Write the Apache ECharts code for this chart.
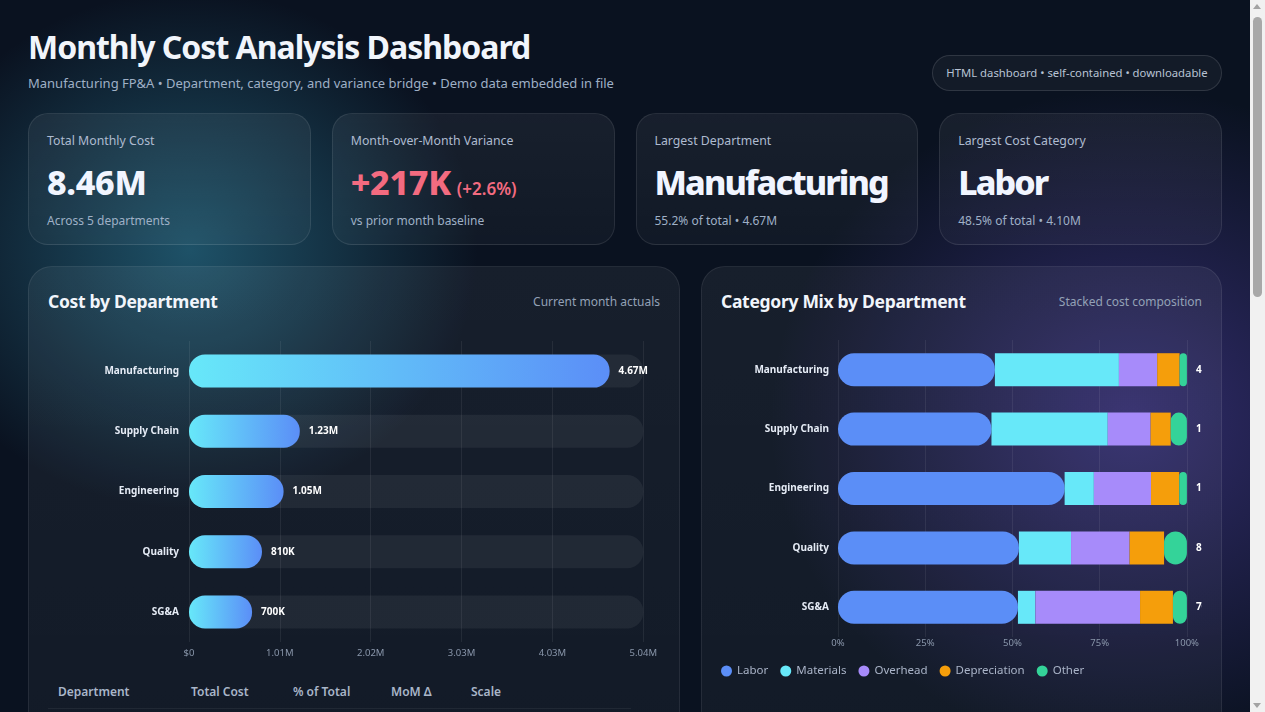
<!DOCTYPE html>
<html>
<head>
<meta charset="utf-8">
<title>Monthly Cost Analysis Dashboard</title>
<script src="https://cdn.jsdelivr.net/npm/echarts@6/dist/echarts.min.js"></script>
<style>
  html, body { margin: 0; }
  html { overflow: hidden; }
  body {
    font-family: "Segoe UI", "Noto Sans", sans-serif;
    color: #e8eef8;
    background:
      radial-gradient(400px 360px at 190px 250px, rgba(50,145,175,.50), transparent 72%),
      radial-gradient(500px 460px at 1130px 420px, rgba(105,80,215,.42), transparent 72%),
      #0a1220;
    background-attachment: fixed;
    height: 712px;
  }
  .wrap { padding: 26px 43px 40px 28px; position: relative; }
  .header { height: 87px; position: relative; }
  h1 { margin: 0; font-size: 32px; line-height: 41px; font-weight: 700; letter-spacing: -1px; color: #f1f5fb; }
  .sub { margin-top: 6px; font-size: 13px; line-height: 20px; color: #9fb0c6; }
  .pill {
    position: absolute; right: 0; top: 29px; height: 36px; box-sizing: border-box; width: 290px; text-align: center;
    border-radius: 18px; line-height: 34px; font-size: 11.3px;
    border: 1px solid rgba(255,255,255,.12); background: rgba(255,255,255,.04); color: #b8c3d4;
  }
  .kpis { display: grid; grid-template-columns: repeat(4, 1fr); gap: 21px; }
  .kpi {
    height: 132px; box-sizing: border-box; padding: 18px 18px; border-radius: 20px;
    background: linear-gradient(180deg, rgba(255,255,255,.06), rgba(255,255,255,.03));
    border: 1px solid rgba(255,255,255,.09);
  }
  .kpi .lbl { font-size: 12.3px; line-height: 18px; color: #aebbd0; }
  .kpi .val { margin-top: 12px; font-size: 34px; line-height: 40px; font-weight: 800; color: #f1f5ff; letter-spacing: -0.3px; }
  .kpi .val.word { letter-spacing: -1.9px; }
  .kpi .val.neg { color: #f36b80; }
  .kpi .val small { font-size: 17px; line-height: 1; font-weight: 600; letter-spacing: 0; margin-left: 6px; }
  .kpi .note { margin-top: 10px; font-size: 12px; line-height: 18px; color: #9fb0c6; }
  .panels { display: grid; grid-template-columns: 5fr 4fr; gap: 21px; margin-top: 21px; }
  .panel {
    border-radius: 24px; padding: 20px 19px; box-sizing: border-box;
    background: linear-gradient(180deg, rgba(255,255,255,.055), rgba(255,255,255,.03));
    border: 1px solid rgba(255,255,255,.08);
  }
  .ph { height: 28px; display: flex; justify-content: space-between; align-items: center; }
  .ph h2 { margin: 0; font-size: 17.5px; font-weight: 700; color: #f1f5fb; letter-spacing: -0.3px; }
  .ph span { font-size: 12px; color: #93a1b6; }
  #deptChart { margin-top: 8px; height: 340px; }
  #mixChart { margin-top: 8px; height: 380px; }
  table { margin-top: 12px; border-collapse: collapse; font-size: 12px; }
  th { text-align: left; font-weight: 600; color: #a9b6c9; padding: 8px 10px; }
  td { padding: 8px 10px; color: #d8e0ec; border-top: 1px solid rgba(255,255,255,.06); }
  .scale { height: 6px; border-radius: 3px; background: linear-gradient(90deg, #67e8f9, #5b8ef7); }
  /* browser scrollbar of the captured page */
  .sb { position: fixed; right: 0; top: 0; width: 15px; height: 712px; background: #f1f1f1; }
  .sb .thumb { position: absolute; left: 3px; width: 9px; top: 17px; height: 280px; border-radius: 5px; background: #a8a8a8; }
  .sb .up, .sb .down { position: absolute; left: 3px; width: 0; height: 0; border-left: 4.5px solid transparent; border-right: 4.5px solid transparent; }
  .sb .up { top: 4px; border-bottom: 5px solid #a3a3a3; }
  .sb .down { bottom: 4px; border-top: 5px solid #a3a3a3; }
</style>
</head>
<body>
<div class="wrap">
  <div class="header">
    <h1>Monthly Cost Analysis Dashboard</h1>
    <div class="sub">Manufacturing FP&amp;A • Department, category, and variance bridge • Demo data embedded in file</div>
    <div class="pill">HTML dashboard • self-contained • downloadable</div>
  </div>
  <div class="kpis">
    <div class="kpi"><div class="lbl">Total Monthly Cost</div><div class="val">8.46M</div><div class="note">Across 5 departments</div></div>
    <div class="kpi"><div class="lbl">Month-over-Month Variance</div><div class="val neg">+217K<small>(+2.6%)</small></div><div class="note">vs prior month baseline</div></div>
    <div class="kpi"><div class="lbl">Largest Department</div><div class="val word">Manufacturing</div><div class="note">55.2% of total • 4.67M</div></div>
    <div class="kpi"><div class="lbl">Largest Cost Category</div><div class="val word">Labor</div><div class="note">48.5% of total • 4.10M</div></div>
  </div>
  <div class="panels">
    <div class="panel">
      <div class="ph"><h2>Cost by Department</h2><span>Current month actuals</span></div>
      <div id="deptChart"></div>
      <table>
        <thead><tr><th style="width:113px">Department</th><th style="width:82px">Total Cost</th><th style="width:78px">% of Total</th><th style="width:60px">MoM Δ</th><th style="width:150px">Scale</th></tr></thead>
        <tbody id="deptRows"></tbody>
      </table>
    </div>
    <div class="panel">
      <div class="ph"><h2>Category Mix by Department</h2><span>Stacked cost composition</span></div>
      <div id="mixChart"></div>
    </div>
  </div>
</div>
<div class="sb"><div class="up"></div><div class="thumb"></div><div class="down"></div></div>
<script>
// values in thousands
const departments = ['Manufacturing', 'Supply Chain', 'Engineering', 'Quality', 'SG&A'];
const deptCost = [4670, 1230, 1050, 810, 700];

const categories = ['Labor', 'Materials', 'Overhead', 'Depreciation', 'Other'];
const catColors = ['#5b8ef7', '#67e8f9', '#a78bfa', '#f59e0b', '#34d399'];
const labor = [2100, 541, 682, 420, 361];
const materials = [1660, 410, 88, 121, 35];
const overhead = [512, 151, 172, 136, 210];
const depreciation = [300, 71, 85, 80, 66];
const other = [98, 57, 23, 53, 28];
const catValues = [labor, materials, overhead, depreciation, other];

const pctTicks = [0, 25, 50, 75, 100];

const FONT = '"Segoe UI", "Noto Sans", sans-serif';

function fmt(k) {
  if (k === 0) return '$0';
  return k >= 1000 ? (k / 1000).toFixed(2) + 'M' : Math.round(k) + 'K';
}

const total = deptCost.reduce((a, b) => a + b, 0);
document.getElementById('deptRows').innerHTML = departments.map((d, i) =>
  '<tr><td>' + d + '</td><td>' + fmt(deptCost[i]) + '</td><td>' + (deptCost[i] / total * 100).toFixed(1) + '%</td><td>—</td>' +
  '<td><div class="scale" style="width:' + (deptCost[i] / deptCost[0] * 100) + '%"></div></td></tr>').join('');

// --- cost by department
const deptChart = echarts.init(document.getElementById('deptChart'));
const xMax = Math.max(...deptCost) * 1.08;
deptChart.setOption({
  textStyle: { fontFamily: FONT },
  grid: { left: 141, right: 15, top: 18, bottom: 21 },
  xAxis: {
    type: 'value', min: 0, max: xMax, interval: xMax / 5,
    axisLine: { show: false }, axisTick: { show: false },
    splitLine: { lineStyle: { color: 'rgba(255,255,255,0.07)' } },
    axisLabel: { color: '#8a97ab', fontSize: 9.5, margin: 6, formatter: fmt }
  },
  yAxis: {
    type: 'category', data: departments, inverse: true,
    axisLine: { show: false }, axisTick: { show: false },
    axisLabel: { color: '#e5ebf5', fontSize: 10, fontWeight: 700, margin: 10 }
  },
  series: [{
    type: 'bar', data: deptCost, barWidth: 33,
    showBackground: true,
    backgroundStyle: { color: 'rgba(255,255,255,0.06)', borderRadius: 16 },
    itemStyle: {
      borderRadius: 16,
      color: new echarts.graphic.LinearGradient(0, 0, 1, 0, [
        { offset: 0, color: '#67e8f9' }, { offset: 1, color: '#5b8ef7' }
      ])
    },
    label: { show: true, position: 'right', distance: 9, color: '#fff', fontSize: 10, fontWeight: 700, formatter: p => fmt(p.value) }
  }]
});

// --- category mix (share of each department's cost)
const mixChart = echarts.init(document.getElementById('mixChart'));
mixChart.setOption({
  textStyle: { fontFamily: FONT },
  grid: { left: 117, right: 15, top: 17, bottom: 66 },
  legend: {
    data: categories, left: 0, top: 342, padding: 0, icon: 'circle', itemWidth: 11, itemHeight: 11, itemGap: 12,
    textStyle: { color: '#aab4c8', fontSize: 11.5 }
  },
  xAxis: {
    type: 'value', min: 0, max: 100, interval: 25,
    axisLine: { show: false }, axisTick: { show: false },
    splitLine: { lineStyle: { color: 'rgba(255,255,255,0.07)' } },
    axisLabel: { color: '#8a97ab', fontSize: 9.5, margin: 1, formatter: v => pctTicks.includes(v) ? v + '%' : '' }
  },
  yAxis: {
    type: 'category', data: departments, inverse: true,
    axisLine: { show: false }, axisTick: { show: false },
    axisLabel: { color: '#e5ebf5', fontSize: 10, fontWeight: 700, margin: 9 }
  },
  series: categories.map((c, ci) => ({
    name: c, type: 'bar', stack: 'mix', barWidth: 33,
    data: catValues[ci].map((v, i) => v / deptCost[i] * 100),
    itemStyle: { color: catColors[ci], borderRadius: (ci === 0 || ci === categories.length - 1) ? 16 : 0 },
    label: ci === categories.length - 1 ? {
      show: true, position: 'right', distance: 9, color: '#fff', fontSize: 10, fontWeight: 700,
      formatter: p => fmt(deptCost[p.dataIndex])
    } : { show: false }
  }))
});
</script>
</body>
</html>
